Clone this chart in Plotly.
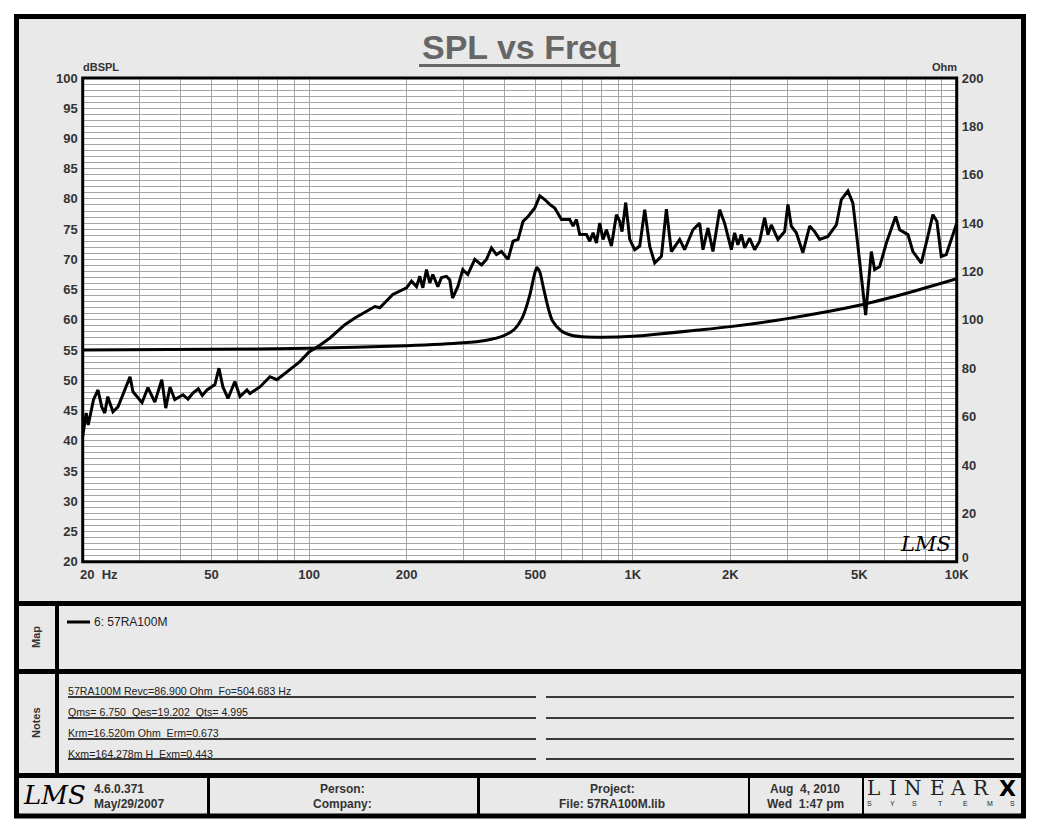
import plotly.graph_objects as go

W, H = 1040, 832

# ---------------- data ----------------
spl_freq = [20.0, 20.5, 20.8, 21.6, 22.3, 22.9, 23.4, 23.9, 24.8, 25.7, 26.6, 28.0, 28.6, 30.5,
            31.8, 33.4, 35.1, 36.1, 37.2, 38.5, 40.8, 42.3, 43.8, 45.5, 46.8, 48.4, 51.2, 52.7,
            54.2, 56.2, 59.0,
            61.2, 64.3, 65.7, 70.5, 75.7, 79.6, 87.3, 93.7, 100, 108, 116, 129, 138.5, 148.7,
            159.7, 165.4, 181.4, 200, 207.2, 214.7, 219.8, 224.6, 230.5, 236.0, 241.1, 249.9,
            256.5, 265.8, 272.1, 277.4, 288.0, 298.4, 309.2, 325.0, 340.8, 353.1, 365.9, 379.1,
            392.8, 411.7, 426.6, 442.0, 458.0, 474.6, 497.8, 515.8, 534.4, 553.8, 573.8, 601.8,
            638.4, 653.6, 669.5, 685.4, 718.9, 735.9, 753.4, 771.8, 790.1, 808.9, 828.7, 858.6,
            889.6, 910.7, 925.7, 950.5, 977.9, 1013, 1050, 1088, 1127, 1168, 1225, 1269, 1315,
            1395, 1445, 1533, 1608, 1646, 1706, 1767, 1854, 1920, 2014, 2062, 2110, 2163, 2214,
            2294, 2377, 2463, 2552, 2613, 2676, 2805, 2942, 3012, 3085, 3197, 3350, 3515, 3642,
            3774, 4002, 4249, 4403, 4614, 4780, 4954, 5134, 5234, 5320, 5450, 5580, 5782, 6064,
            6283, 6478, 6665, 7069, 7325, 7774, 8146, 8441, 8685, 8960, 9285, 10000]
spl_db = [40.7, 44.6, 42.6, 46.8, 48.4, 45.6, 44.6, 47.3, 44.8, 45.6, 47.6, 50.6, 48.1, 46.3,
          48.8, 46.4, 50.1, 45.4, 48.9, 46.8, 47.6, 46.9, 47.9, 48.6, 47.5, 48.4, 49.3, 52.0,
          48.9, 47.0, 49.8,
          47.3, 48.4, 47.8, 48.9, 50.6, 50.1, 51.8, 53.1, 54.7, 55.8, 57.0, 59.2, 60.3, 61.2,
          62.2, 62.0, 64.2, 65.3, 66.4, 65.5, 67.2, 65.3, 68.3, 66.1, 67.5, 65.5,
          67.0, 67.2, 66.6, 63.6, 65.5, 68.3, 67.5, 70.0, 69.1, 70.0, 71.9, 70.8,
          71.3, 70.0, 73.0, 73.3, 76.3, 77.1, 78.5, 80.5, 79.9, 79.1, 78.5, 76.6,
          76.6, 75.5, 76.6, 74.1, 74.1, 73.0, 74.4, 72.7, 76.0, 73.3, 74.9, 72.2,
          77.4, 76.3, 74.6, 79.4, 73.3, 71.6, 72.2, 78.2, 72.2, 69.4, 70.5, 78.3, 71.3,
          73.3, 71.6, 74.9, 76.0, 71.6, 75.2, 71.3, 78.2, 76.0, 71.6, 74.4, 72.4, 74.1, 71.9,
          73.5, 71.6, 73.0, 76.9, 74.1, 75.7, 73.3, 74.6, 79.1, 75.5, 74.4, 71.1, 75.5, 74.6,
          73.3, 73.8, 75.7, 79.9, 81.3, 79.3, 72.2, 64.4, 60.8, 65.0, 71.3, 68.3, 68.8, 72.7,
          74.9, 77.1, 74.9, 74.1, 71.3, 69.4, 73.8, 77.4, 76.3, 70.5, 70.8, 76.0]

imp_freq = [20, 50, 100, 200, 300, 350, 400, 430, 456, 480, 495, 505, 515, 530, 550, 565,
            600, 650, 700, 800, 1000, 1600, 2000, 3000, 5000, 7000, 10000]
imp_ohm = [87.5, 87.8, 88.3, 89.3, 90.5, 91.5, 93.5, 96, 101, 110, 118, 121.5, 120, 113, 104,
           99.5, 95.5, 93.5, 93, 92.8, 93.2, 95.8, 97.2, 100.5, 106, 111, 117]

x_grid = [20, 30, 40, 50, 60, 70, 80, 90, 100, 200, 300, 400, 500, 600, 700, 800, 900,
          1000, 2000, 3000, 4000, 5000, 6000, 7000, 8000, 9000, 10000]
x_labels = {50: "50", 100: "100", 200: "200", 500: "500", 1000: "1K", 2000: "2K",
            5000: "5K", 10000: "10K"}
ohm_ticks = [0, 20, 40, 60, 80, 100, 120, 140, 160, 180, 200]

notes = ["57RA100M Revc=86.900 Ohm  Fo=504.683 Hz",
         "Qms= 6.750  Qes=19.202  Qts= 4.995",
         "Krm=16.520m Ohm  Erm=0.673",
         "Kxm=164.278m H  Exm=0.443"]
legend_name = "6: 57RA100M"

assert len(spl_freq) == len(spl_db)
assert len(imp_freq) == len(imp_ohm)

# ---------------- helpers ----------------
def px(x):
    return x / W

def py(y):
    return 1 - y / H

FONT = "Liberation Sans"
GRID = "#a6a6a6"
BG = "#e9e9e9"
TXT = "#333333"

PL, PR, PT, PB = 82.7, 956.7, 78.0, 561.7

fig = go.Figure()
fig.add_trace(go.Scatter(x=spl_freq, y=spl_db, mode="lines",
                         line=dict(color="black", width=3), yaxis="y", showlegend=False))
fig.add_trace(go.Scatter(x=imp_freq, y=imp_ohm, mode="lines",
                         line=dict(color="black", width=3, shape="spline", smoothing=0.8),
                         yaxis="y2", showlegend=False))

tickfont = dict(family=FONT, size=13, color=TXT, weight="bold")

fig.update_layout(
    width=W, height=H,
    margin=dict(l=0, r=0, t=0, b=0),
    paper_bgcolor=BG, plot_bgcolor="white",
    showlegend=False,
    xaxis=dict(type="log", range=[1.30103, 4.0], domain=[px(PL), px(PR)],
               tickmode="array", tickvals=x_grid,
               ticktext=[x_labels.get(v, "") for v in x_grid],
               showgrid=True, gridcolor=GRID, gridwidth=1, ticks="",
               ticklabelstandoff=3,
               tickfont=tickfont, zeroline=False, showline=False, automargin=False,
               fixedrange=True),
    yaxis=dict(range=[20, 100], domain=[py(PB), py(PT)], tick0=20, dtick=5,
               showgrid=True, gridcolor=GRID, gridwidth=1, ticks="",
               ticklabelstandoff=4,
               minor=dict(dtick=1, showgrid=True, gridcolor=GRID, gridwidth=1),
               tickfont=tickfont, zeroline=False, showline=False, automargin=False,
               fixedrange=True),
    yaxis2=dict(range=[0, 200], overlaying="y", side="right",
                tickmode="array", tickvals=ohm_ticks,
                ticktext=["" if v == 0 else str(v) for v in ohm_ticks],
                showgrid=False, ticks="", tickfont=tickfont, zeroline=False,
                ticklabelstandoff=4,
                showline=False, automargin=False, fixedrange=True),
)

shapes = []

def rect(x0, y0, x1, y1, fill, lw=0, lc="black", layer="above"):
    shapes.append(dict(type="rect", xref="paper", yref="paper",
                       x0=px(x0), x1=px(x1), y0=py(y0), y1=py(y1),
                       fillcolor=fill, line=dict(width=lw, color=lc), layer=layer))

def line(x0, y0, x1, y1, w, c="black"):
    shapes.append(dict(type="line", xref="paper", yref="paper",
                       x0=px(x0), x1=px(x1), y0=py(y0), y1=py(y1),
                       line=dict(width=w, color=c), layer="above"))

# white outer margin
rect(0, 0, W, 14, "white")
rect(0, 818, W, H, "white")
rect(0, 0, 14, H, "white")
rect(1026, 0, W, H, "white")
# outer frame
rect(16.5, 16.5, 1023.5, 816, "rgba(0,0,0,0)", lw=5)
# section separators
rect(14, 601, 1026, 606, "black")
rect(14, 669, 1026, 674, "black")
rect(14, 773, 1026, 778, "black")
rect(55, 604, 59, 775, "black")
rect(207, 776, 210, 816, "black")
rect(477, 776, 480, 816, "black")
rect(748, 776, 750, 816, "black")
rect(862, 776, 864, 816, "black")
# plot border
rect(PL, PT, PR, PB, "rgba(0,0,0,0)", lw=3)
# title underline
line(419, 65.5, 620, 65.5, 3, "#666666")
# legend swatch
line(67, 622, 90, 622, 3)
# notes lines
for yy in [697, 718, 739, 759]:
    line(68, yy, 536, yy, 1.3)
    line(546, yy, 1014, yy, 1.3)

fig.update_layout(shapes=shapes)

anns = []

def ann(text, x, y, size, xanchor="left", yanchor="middle", color=TXT, family=FONT,
        angle=0, bold=False, italic=False):
    if bold:
        text = "<b>" + text + "</b>"
    if italic:
        text = "<i>" + text + "</i>"
    anns.append(dict(text=text, x=px(x), y=py(y), xref="paper", yref="paper",
                     xanchor=xanchor, yanchor=yanchor, showarrow=False,
                     font=dict(family=family, size=size, color=color),
                     textangle=angle, borderpad=0))

ann("SPL vs Freq", 520, 47, 34, xanchor="center", color="#666666", bold=True)
ann("dBSPL", 82, 67, 11, bold=True)
ann("Ohm", 958, 67, 11, xanchor="right", bold=True)
ann("20  Hz", 79, 574, 13, bold=True)
ann("0", 961, 557.5, 12, bold=True)
ann("LMS", 925, 544, 21, xanchor="center", color="black", family="DejaVu Serif", italic=True)

ann("Map", 36, 637, 11, xanchor="center", angle=-90, bold=True)
ann("Notes", 36, 723, 11, xanchor="center", angle=-90, bold=True)
ann(legend_name, 93, 622, 12, color="#222222")
for i, t in enumerate(notes):
    ann(t, 67, [691, 712, 733, 753.5][i], 10.6, color="#222222")

ann("LMS", 54, 795, 26, xanchor="center", color="black", family="DejaVu Serif", italic=True)
ann("4.6.0.371", 93, 788.5, 12, bold=True)
ann("May/29/2007", 93, 804, 12, bold=True)
ann("Person:", 342, 788.5, 12, xanchor="center", bold=True)
ann("Company:", 342, 804, 12, xanchor="center", bold=True)
ann("Project:", 612, 788.5, 12, xanchor="center", bold=True)
ann("File: 57RA100M.lib", 612, 804, 12, xanchor="center", bold=True)
ann("Aug  4, 2010", 805, 788.5, 12, xanchor="center", bold=True)
ann("Wed  1:47 pm", 805, 804, 12, xanchor="center", bold=True)

# LINEARX logo letters
for ch, xc in zip("LINEAR", [873, 893, 913, 937, 958, 981]):
    ann(ch, xc, 788, 20, xanchor="center", color="#222222", family="DejaVu Serif")
ann("X", 1007, 788, 22, xanchor="center", color="black", family="DejaVu Sans", bold=True)
for ch, xc in zip("SYSTEMS", [869, 892, 914, 940, 965, 990, 1012]):
    ann(ch, xc, 803, 7, xanchor="center", color="#222222")

fig.update_layout(annotations=anns)

fig.write_html("out.html")
